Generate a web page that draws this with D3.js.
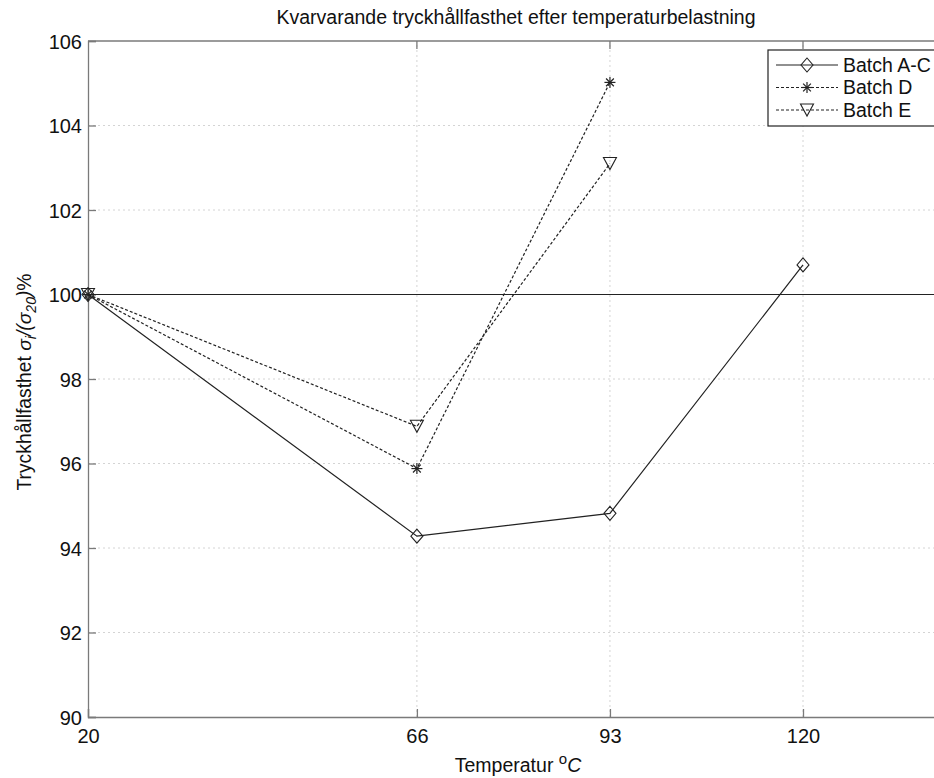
<!DOCTYPE html>
<html>
<head>
<meta charset="utf-8">
<script src="https://cdn.jsdelivr.net/npm/d3@7"></script>
<style>
  body { margin: 0; background: #fff; }
  svg text { font-family: "Liberation Sans", Arial, sans-serif; fill: #111; }
</style>
</head>
<body>
<div id="chart"></div>
<script>
// chart values
var temps = [20, 66, 93, 120];
var batchAC = [100, 94.28, 94.82, 100.7];
var batchD = [100, 95.88, 105.02];
var batchE = [100, 96.88, 103.1];
var xTicks = [20, 66, 93, 120];
var yTicks = [90, 92, 94, 96, 98, 100, 102, 104, 106];
var seriesNames = ["Batch A-C", "Batch D", "Batch E"];

(function () {
    var width = 934, height = 778;
    var margin = {top: 41, left: 88, bottom: 61, right: -12};

    var svg = d3.select("#chart").append("svg")
        .attr("width", width)
        .attr("height", height);

    var x = d3.scaleLinear().domain([20, 140]).range([margin.left, width - margin.right]);
    var y = d3.scaleLinear().domain([90, 106]).range([height - margin.bottom, margin.top]);

    var x0 = x.range()[0], x1 = x.range()[1], y0 = y.range()[0], y1 = y.range()[1];

    // grid
    svg.append("g").selectAll("line.gx")
        .data(xTicks.slice(1))
        .enter().append("line")
        .attr("x1", function (d) { return x(d); })
        .attr("x2", function (d) { return x(d); })
        .attr("y1", y0).attr("y2", y1)
        .attr("stroke", "#d4d4d4").attr("stroke-width", 1)
        .attr("stroke-dasharray", "2,3");
    svg.append("g").selectAll("line.gy")
        .data(yTicks.slice(1, -1))
        .enter().append("line")
        .attr("y1", function (d) { return y(d); })
        .attr("y2", function (d) { return y(d); })
        .attr("x1", x0).attr("x2", x1)
        .attr("stroke", "#d4d4d4").attr("stroke-width", 1)
        .attr("stroke-dasharray", "2,3");

    // axes (matlab style: ticks inward)
    var xAxis = d3.axisBottom(x).tickValues(xTicks).tickSize(-8).tickPadding(10).tickFormat(d3.format("d"));
    var yAxis = d3.axisLeft(y).tickValues(yTicks).tickSize(-8).tickPadding(6).tickFormat(d3.format("d"));

    var gx = svg.append("g").attr("transform", "translate(0," + y0 + ")").call(xAxis);
    var gy = svg.append("g").attr("transform", "translate(" + x0 + ",0)").call(yAxis);
    [gx, gy].forEach(function (g) {
        g.select(".domain").attr("stroke", "#7a7a7a").attr("stroke-width", 1.3);
        g.selectAll(".tick line").attr("stroke", "#7a7a7a").attr("stroke-width", 1.3);
        g.selectAll(".tick text").style("font-size", "20px").style("fill", "#111")
            .style("font-family", "'Liberation Sans', Arial, sans-serif");
    });
    gx.selectAll(".tick text").attr("dy", "0.8em");
    gy.selectAll(".tick text").attr("dy", "0.35em");
    // top box line
    svg.append("line").attr("x1", x0).attr("x2", x1).attr("y1", y1).attr("y2", y1)
        .attr("stroke", "#7a7a7a").attr("stroke-width", 1.3);
    svg.append("g").selectAll("line")
        .data(xTicks.slice(1))
        .enter().append("line")
        .attr("x1", function (d) { return x(d); })
        .attr("x2", function (d) { return x(d); })
        .attr("y1", y1).attr("y2", y1 + 8)
        .attr("stroke", "#7a7a7a").attr("stroke-width", 1.3);

    // reference line at 100
    svg.append("line")
        .attr("x1", x0).attr("x2", x1)
        .attr("y1", y(100)).attr("y2", y(100))
        .attr("stroke", "#222").attr("stroke-width", 1.2);

    var line = d3.line()
        .x(function (d) { return x(d[0]); })
        .y(function (d) { return y(d[1]); });

    var series = [
        {name: seriesNames[0], vals: batchAC, dash: null, marker: "diamond"},
        {name: seriesNames[1], vals: batchD, dash: "3,2", marker: "star"},
        {name: seriesNames[2], vals: batchE, dash: "3,2", marker: "tri"}
    ];

    function drawMarker(g, type, cx, cy) {
        if (type === "diamond") {
            g.append("path")
                .attr("d", "M" + cx + "," + (cy - 7) + "L" + (cx + 6) + "," + cy + "L" + cx + "," + (cy + 7) + "L" + (cx - 6) + "," + cy + "Z")
                .attr("fill", "none").attr("stroke", "#222").attr("stroke-width", 1.1);
        } else if (type === "tri") {
            g.append("path")
                .attr("d", "M" + (cx - 6.5) + "," + (cy - 6) + "L" + (cx + 6.5) + "," + (cy - 6) + "L" + cx + "," + (cy + 6) + "Z")
                .attr("fill", "none").attr("stroke", "#222").attr("stroke-width", 1.1);
        } else {
            var r = 5.5;
            [0, 45, 90, 135].forEach(function (a) {
                var rad = a * Math.PI / 180;
                g.append("line")
                    .attr("x1", cx - r * Math.cos(rad)).attr("y1", cy - r * Math.sin(rad))
                    .attr("x2", cx + r * Math.cos(rad)).attr("y2", cy + r * Math.sin(rad))
                    .attr("stroke", "#222").attr("stroke-width", 1.2);
            });
        }
    }

    series.forEach(function (s) {
        var pts = s.vals.map(function (v, i) { return [temps[i], v]; });
        svg.append("path")
            .datum(pts)
            .attr("d", line)
            .attr("fill", "none")
            .attr("stroke", "#222")
            .attr("stroke-width", 1.2)
            .attr("stroke-dasharray", s.dash);
        var g = svg.append("g");
        pts.forEach(function (p) { drawMarker(g, s.marker, x(p[0]), y(p[1])); });
    });

    // legend
    var lg = svg.append("g");
    lg.append("rect")
        .attr("x", 768).attr("y", 50)
        .attr("width", 200).attr("height", 76)
        .attr("fill", "#fff").attr("stroke", "#222").attr("stroke-width", 1.2);
    series.forEach(function (s, i) {
        var ly = 65 + i * 22.5;
        lg.append("line")
            .attr("x1", 776).attr("x2", 838)
            .attr("y1", ly).attr("y2", ly)
            .attr("stroke", "#222").attr("stroke-width", 1.1)
            .attr("stroke-dasharray", s.dash);
        drawMarker(lg, s.marker, 807, ly);
        lg.append("text")
            .attr("x", 843).attr("y", ly)
            .attr("dy", "0.35em")
            .style("font-size", "19.5px")
            .text(s.name);
    });

    // title
    svg.append("text")
        .attr("x", 516).attr("y", 24)
        .attr("text-anchor", "middle")
        .style("font-size", "19.5px")
        .text("Kvarvarande tryckhållfasthet efter temperaturbelastning");

    // x label
    var xl = svg.append("text")
        .attr("x", 518).attr("y", 772)
        .attr("text-anchor", "middle")
        .style("font-size", "19.5px");
    xl.append("tspan").text("Temperatur ");
    xl.append("tspan").attr("dy", "-8").style("font-size", "15px").text("o");
    xl.append("tspan").attr("dy", "8").style("font-style", "italic").text("C");

    // y label
    var yl = svg.append("text")
        .attr("transform", "translate(31,382) rotate(-90)")
        .attr("text-anchor", "middle")
        .style("font-size", "19.3px");
    yl.append("tspan").text("Tryckhållfasthet ");
    yl.append("tspan").style("font-style", "italic").text("σ");
    yl.append("tspan").attr("dy", "5").style("font-size", "14px").style("font-style", "italic").text("i");
    yl.append("tspan").attr("dy", "-5").style("font-style", "italic").text("/(σ");
    yl.append("tspan").attr("dy", "5").style("font-size", "14px").style("font-style", "italic").text("20");
    yl.append("tspan").attr("dy", "-5").style("font-style", "italic").text(")");
    yl.append("tspan").text("%");
})();
</script>
</body>
</html>
